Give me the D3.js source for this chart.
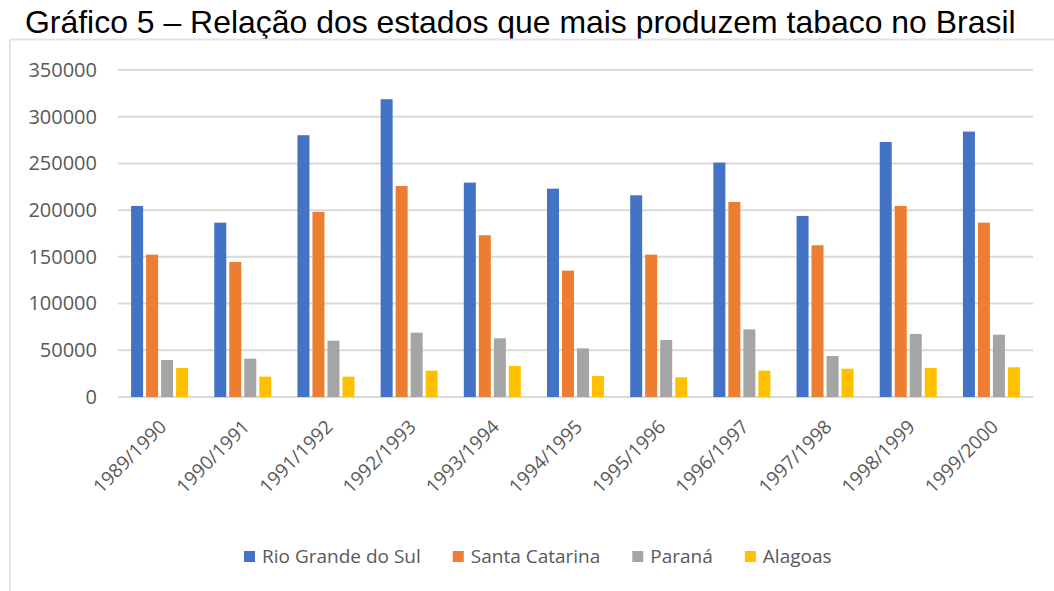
<!DOCTYPE html>
<html>
<head>
<meta charset="utf-8">
<script src="https://cdn.jsdelivr.net/npm/d3@7"></script>
<style>
  body { margin: 0; background: #fff; }
  svg { display: block; }
</style>
</head>
<body>
<svg id="chart" width="1054" height="591"></svg>
<script>
// data
var safras = ["1989/1990", "1990/1991", "1991/1992", "1992/1993", "1993/1994", "1994/1995",
    "1995/1996", "1996/1997", "1997/1998", "1998/1999", "1999/2000"];
var estados = ["Rio Grande do Sul", "Santa Catarina", "Paraná", "Alagoas"];
var rioGrandeDoSul = [204500, 186600, 280200, 318700, 229500, 223000, 215900, 250900, 193800, 273000, 284100];
var santaCatarina = [152400, 144500, 198100, 225900, 173100, 135300, 152400, 208800, 162400, 204500, 186600];
var parana = [39600, 41000, 60300, 68900, 62800, 52100, 61000, 72400, 43900, 67500, 66700];
var alagoas = [31000, 21800, 21800, 28200, 33200, 22500, 21100, 28200, 30300, 31000, 31800];
var yTicks = [0, 50000, 100000, 150000, 200000, 250000, 300000, 350000];
var cores = ["#4472C4", "#ED7D31", "#A5A5A5", "#FFC000"];

var series = [rioGrandeDoSul, santaCatarina, parana, alagoas];

var svg = d3.select("#chart");
var fontUi = "'Open Sans', 'Noto Sans', sans-serif";
var cinza = "#595959";

// title
var title = svg.append("text")
    .attr("x", 25)
    .attr("y", 33)
    .style("font-family", "'Liberation Sans', Arial, sans-serif")
    .style("font-size", "28px")
    .style("fill", "#000")
    .text("Gráfico 5 – Relação dos estados que mais produzem tabaco no Brasil");
var w = title.node().getComputedTextLength();
title.style("font-size", (28 * 991 / w) + "px");

// chart box border (top and left)
svg.append("line")
    .attr("x1", 10).attr("x2", 1054).attr("y1", 39.5).attr("y2", 39.5)
    .style("stroke", "#e3e3e3").style("stroke-width", 2);
svg.append("line")
    .attr("x1", 10).attr("x2", 10).attr("y1", 39.5).attr("y2", 591)
    .style("stroke", "#e3e3e3").style("stroke-width", 2);

// scales
var x0 = d3.scaleBand().domain(safras).range([118, 1033]);
var x1 = d3.scaleBand().domain(estados).range([0, 57]).paddingInner(0.2);
var offset = (x0.bandwidth() - 57) / 2;
var y = d3.scaleLinear().domain([0, 350000]).range([397, 70]);

// gridlines
svg.append("g")
    .selectAll("line")
    .data(yTicks)
    .enter()
    .append("line")
    .attr("x1", 118)
    .attr("x2", 1033)
    .attr("y1", function (d) { return y(d); })
    .attr("y2", function (d) { return y(d); })
    .style("stroke", "#d9d9d9")
    .style("stroke-width", 2);

// y axis labels
var yAxis = svg.append("g")
    .attr("transform", "translate(118,0)")
    .call(d3.axisLeft(y).tickValues(yTicks).tickSize(0).tickPadding(21).tickFormat(d3.format("d")));
yAxis.select(".domain").remove();
yAxis.selectAll("text")
    .style("font-family", fontUi)
    .style("font-size", "20px")
    .style("fill", cinza);

// bars
var groups = svg.append("g")
    .selectAll("g")
    .data(safras)
    .enter()
    .append("g")
    .attr("transform", function (d) { return "translate(" + (x0(d) + offset) + ",0)"; });

groups.selectAll("rect")
    .data(function (d, i) {
        return estados.map(function (e, j) { return { estado: e, valor: series[j][i] }; });
    })
    .enter()
    .append("rect")
    .attr("x", function (d) { return x1(d.estado); })
    .attr("y", function (d) { return y(d.valor); })
    .attr("width", x1.bandwidth())
    .attr("height", function (d) { return y(0) - y(d.valor); })
    .attr("fill", function (d, j) { return cores[j]; });

// x axis labels, rotated
var xAxis = svg.append("g")
    .attr("transform", "translate(0,397)")
    .call(d3.axisBottom(x0).tickSize(0).tickPadding(0));
xAxis.select(".domain").remove();
xAxis.selectAll("text")
    .attr("y", 0)
    .attr("dy", 0)
    .attr("transform", "translate(8,31)rotate(-45)")
    .style("text-anchor", "end")
    .style("font-family", fontUi)
    .style("font-size", "19px")
    .style("fill", cinza);

// legend
var legend = svg.append("g").attr("transform", "translate(244,0)");
var lx = 0;
estados.forEach(function (e, j) {
    legend.append("rect")
        .attr("x", lx)
        .attr("y", 551)
        .attr("width", 11)
        .attr("height", 11)
        .attr("fill", cores[j]);
    var t = legend.append("text")
        .attr("x", lx + 18)
        .attr("y", 563)
        .style("font-family", fontUi)
        .style("font-size", "19px")
        .style("fill", cinza)
        .text(e);
    lx += 18 + t.node().getComputedTextLength() + 32;
});
</script>
</body>
</html>
